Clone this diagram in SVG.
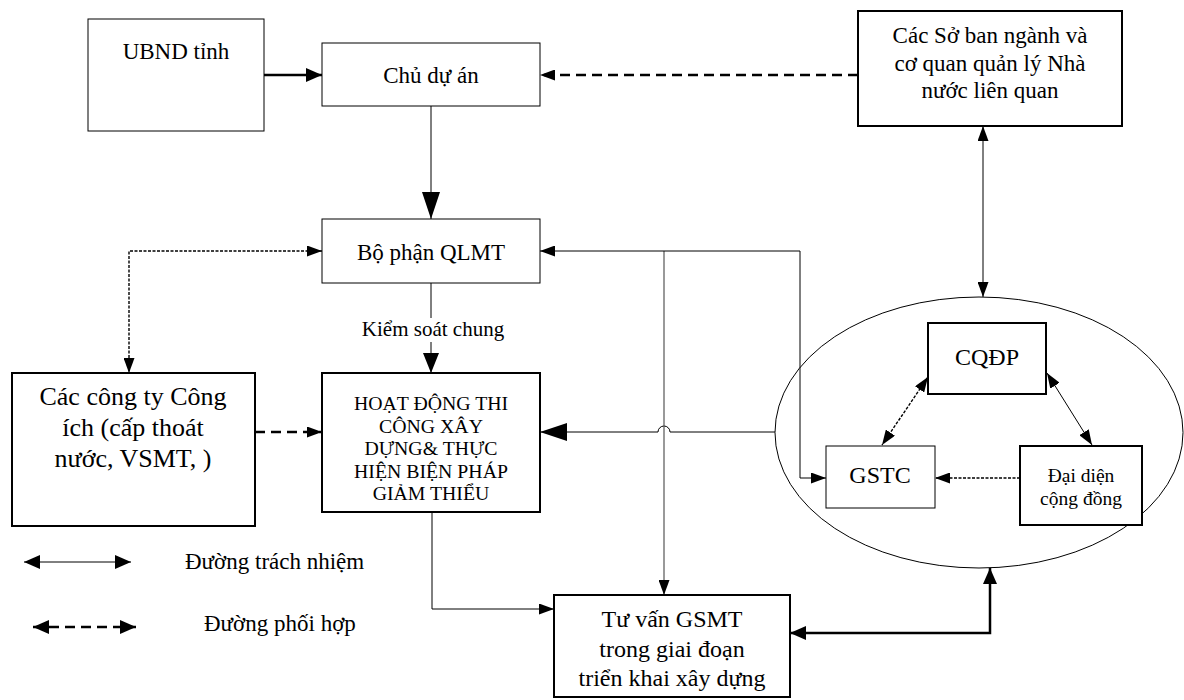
<svg xmlns="http://www.w3.org/2000/svg" width="1184" height="700" viewBox="0 0 1184 700">
<style>
text{font-family:"Liberation Serif","Times New Roman",serif;fill:#000;text-anchor:middle}
.thin{fill:#fff;stroke:#000;stroke-width:1}
.thick{fill:#fff;stroke:#000;stroke-width:2}
.ln{fill:none;stroke:#000;stroke-width:1}
.gray{fill:none;stroke:#555;stroke-width:1.2}
.bold{fill:none;stroke:#000;stroke-width:2.5}
.dash{fill:none;stroke:#000;stroke-width:2.5;stroke-dasharray:10 6}
.dot{fill:none;stroke:#000;stroke-width:1.4;stroke-dasharray:3 1.5}
</style>
<defs>
<marker id="big" markerUnits="userSpaceOnUse" viewBox="0 0 27 18" refX="27" refY="9" markerWidth="27" markerHeight="18" orient="auto-start-reverse"><path d="M0,0 L27,9 L0,18 z" fill="#000"/></marker>
<marker id="med" markerUnits="userSpaceOnUse" viewBox="0 0 20 16" refX="20" refY="8" markerWidth="20" markerHeight="16" orient="auto-start-reverse"><path d="M0,0 L20,8 L0,16 z" fill="#000"/></marker>
<marker id="thk" markerUnits="userSpaceOnUse" viewBox="0 0 16 14" refX="16" refY="7" markerWidth="16" markerHeight="14" orient="auto-start-reverse"><path d="M0,0 L16,7 L0,14 z" fill="#000"/></marker>
<marker id="sm" markerUnits="userSpaceOnUse" viewBox="0 0 15 11" refX="15" refY="5.5" markerWidth="15" markerHeight="11" orient="auto-start-reverse"><path d="M0,0 L15,5.5 L0,11 z" fill="#000"/></marker>
</defs>

<g id="connectors">
<line class="bold" x1="264" y1="75" x2="322" y2="75" marker-end="url(#thk)"/>
<line class="dash" x1="858" y1="75" x2="540" y2="75" marker-end="url(#sm)"/>
<line class="ln" x1="431" y1="106" x2="431" y2="219" marker-end="url(#big)"/>
<path class="dot" d="M322,251 H129 V373" marker-start="url(#sm)" marker-end="url(#sm)"/>
<line class="ln" x1="431" y1="283" x2="431" y2="373" marker-end="url(#med)"/>
<line class="dash" x1="255" y1="432" x2="322" y2="432" marker-end="url(#sm)"/>
<path class="ln" d="M775,432 H670 A6,6 0 0 0 658,432 H540" marker-end="url(#big)"/>
<line class="gray" x1="664" y1="251" x2="664" y2="595" marker-end="url(#sm)"/>
<path class="ln" d="M540,251 H800 V478 H826" marker-start="url(#sm)" marker-end="url(#sm)"/>
<line class="ln" x1="983" y1="126" x2="983" y2="297" marker-start="url(#sm)" marker-end="url(#sm)"/>
<line class="dot" x1="928" y1="377" x2="882" y2="445" marker-start="url(#sm)" marker-end="url(#sm)"/>
<line class="ln" x1="1047" y1="373" x2="1092" y2="445" marker-start="url(#sm)" marker-end="url(#sm)"/>
<line class="dot" x1="1020" y1="478" x2="935" y2="478" marker-end="url(#sm)"/>
<line class="ln" x1="1020" y1="474" x2="1020" y2="482"/>
<path class="ln" d="M432,512 V609 H554" marker-end="url(#sm)"/>
<path class="bold" d="M790,633 H990 V568" marker-start="url(#thk)" marker-end="url(#thk)"/>
<line class="ln" x1="24" y1="562" x2="131" y2="562" marker-start="url(#thk)" marker-end="url(#thk)"/>
<line class="dash" x1="33" y1="627" x2="136" y2="627" stroke-dasharray="8 5" marker-start="url(#thk)" marker-end="url(#thk)"/>
</g>

<g id="ellipse"><ellipse cx="979" cy="432.5" rx="204" ry="135.5" fill="none" stroke="#000" stroke-width="1"/></g>

<g id="ubnd"><rect class="thin" x="88" y="19" width="176" height="112"/><text x="176" y="59" font-size="23">UBND tỉnh</text></g>
<g id="chu-du-an"><rect class="thin" x="322" y="43" width="218" height="63"/><text x="431" y="83" font-size="23">Chủ dự án</text></g>
<g id="cac-so"><rect class="thick" x="858" y="11" width="264" height="115"/>
<text x="990" y="43" font-size="23">Các Sở ban ngành và</text>
<text x="990" y="71" font-size="23">cơ quan quản lý Nhà</text>
<text x="990" y="98" font-size="23">nước liên quan</text></g>
<g id="bo-phan"><rect class="thin" x="322" y="219" width="218" height="64"/><text x="431" y="260" font-size="23">Bộ phận QLMT</text></g>
<g id="label-kiem-soat"><rect x="358" y="318" width="152" height="24" fill="#fff"/><text x="433" y="336" font-size="21">Kiểm soát chung</text></g>
<g id="cong-ty"><rect class="thick" x="12" y="373" width="243" height="153"/>
<text x="133" y="405" font-size="26">Các công ty Công</text>
<text x="133" y="436" font-size="26">ích (cấp thoát</text>
<text x="133" y="467" font-size="26">nước, VSMT, )</text></g>
<g id="hoat-dong"><rect class="thick" x="322" y="373" width="218" height="139"/>
<text x="431" y="410" font-size="19.8">HOẠT ĐỘNG THI</text>
<text x="431" y="433" font-size="19.8">CÔNG XÂY</text>
<text x="431" y="455" font-size="19.8">DỰNG&amp; THỰC</text>
<text x="431" y="478" font-size="19.8">HIỆN BIỆN PHÁP</text>
<text x="431" y="500" font-size="19.8">GIẢM THIỂU</text></g>
<g id="cqdp"><rect class="thick" x="928" y="323" width="118" height="71"/><text x="987" y="365" font-size="24">CQĐP</text></g>
<g id="gstc"><rect class="thin" x="826" y="446" width="109" height="62"/><text x="880" y="483" font-size="24">GSTC</text></g>
<g id="dai-dien"><rect class="thick" x="1020" y="446" width="122" height="79"/>
<text x="1081" y="482" font-size="19.5">Đại diện</text>
<text x="1081" y="505" font-size="19.5">cộng đồng</text></g>
<g id="tu-van"><rect class="thick" x="554" y="595" width="236" height="102"/>
<text x="672" y="627" font-size="24">Tư vấn GSMT</text>
<text x="672" y="657" font-size="24">trong giai đoạn</text>
<text x="672" y="686" font-size="24">triển khai xây dựng</text></g>
<g id="legend">
<text x="185" y="569" font-size="23" style="text-anchor:start">Đường trách nhiệm</text>
<text x="204" y="631" font-size="23" style="text-anchor:start">Đường phối hợp</text>
</g>
</svg>
